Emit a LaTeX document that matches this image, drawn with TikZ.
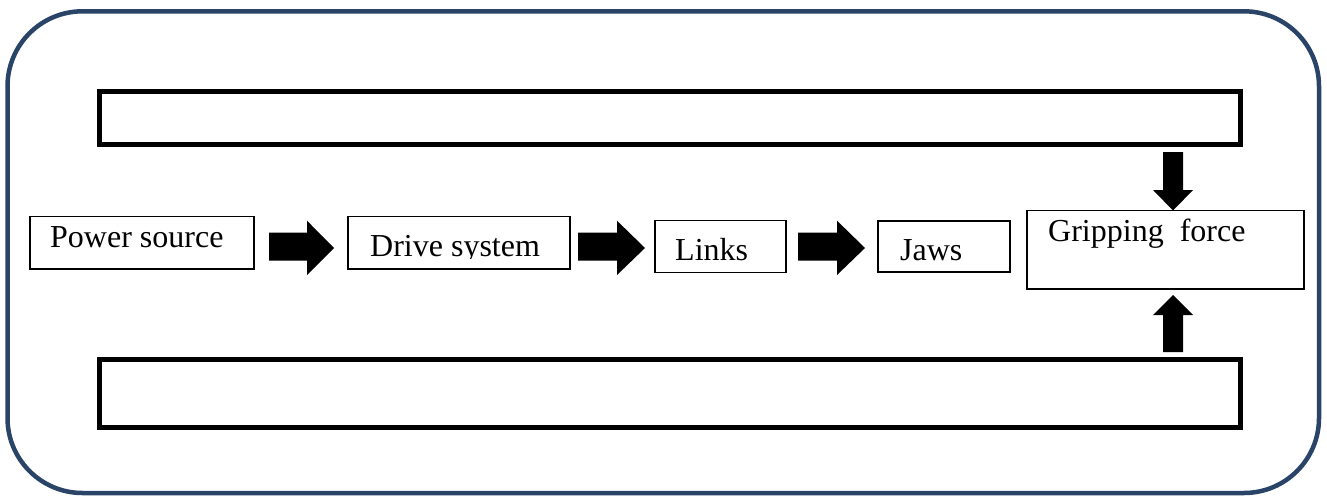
\documentclass[tikz,border=0pt]{standalone}
\usepackage{fontspec}
\setmainfont{Liberation Serif}
\definecolor{frameblue}{RGB}{41,68,102}
\begin{document}
\begin{tikzpicture}[x=1pt,y=-1pt,
  frame/.style={draw=frameblue,line width=4.5pt,rounded corners=75pt},
  bar/.style={draw=black,line width=5pt,fill=white,inner sep=0pt},
  box/.style={draw=black,line width=1.4pt,fill=white,inner sep=0pt},
  lbl/.style={anchor=base west,inner sep=0pt,font=\fontsize{32}{38}\selectfont},
  blockarrow/.style={fill=black}]
\useasboundingbox (0,0) rectangle (1327,495);
\draw[frame] (7.5,11.3) rectangle (1319,493);
% long bars
\node[bar,minimum width=1141pt,minimum height=52.5pt] (topbar) at (670,91.5|-0,118) {};
\node[bar,minimum width=1141pt,minimum height=68pt] (botbar) at (670,393.5) {};
% boxes
\node[box,minimum width=224pt,minimum height=52.3pt] (ps) at (142,242.8) {};
\node[box,minimum width=222pt,minimum height=52.3pt] (ds) at (459,242.8) {};
\node[box,minimum width=131pt,minimum height=52pt] (ln) at (720.5,246.7) {};
\node[box,minimum width=132pt,minimum height=51pt] (jw) at (944,246.5) {};
\node[box,minimum width=277pt,minimum height=78.3pt] (gf) at (1165.5,249.8) {};
% labels
\node[lbl] (tps) at (50,247) {Power source};
\begin{scope}
\clip (ds.north west) rectangle (570,258.5);
\node[lbl] (tds) at (370,256.7) {Drive system};
\end{scope}
\node[lbl] (tln) at (675,260.7) {Links};
\node[lbl] (tjw) at (900,260) {Jaws};
\node[lbl] (tgf) at (1048,241.7) {Gripping\ \ force};
% block arrows
\fill[blockarrow] (269,232.5) -- (307,232.5) -- (307,220.7) -- (334,248) -- (307,275) -- (307,260.7) -- (269,260.7) -- cycle;
\fill[blockarrow] (578,232.5) -- (617,232.5) -- (617,220.7) -- (645,248) -- (617,275) -- (617,260.7) -- (578,260.7) -- cycle;
\fill[blockarrow] (798,232.5) -- (837,232.5) -- (837,220.7) -- (865,248) -- (837,275) -- (837,260.7) -- (798,260.7) -- cycle;
\fill[blockarrow] (1163,152) -- (1183,152) -- (1183,190) -- (1193,190) -- (1173,210.5) -- (1153,190) -- (1163,190) -- cycle;
\fill[blockarrow] (1163,352) -- (1183,352) -- (1183,315) -- (1193,315) -- (1173,295) -- (1153,315) -- (1163,315) -- cycle;
\end{tikzpicture}
\end{document}
